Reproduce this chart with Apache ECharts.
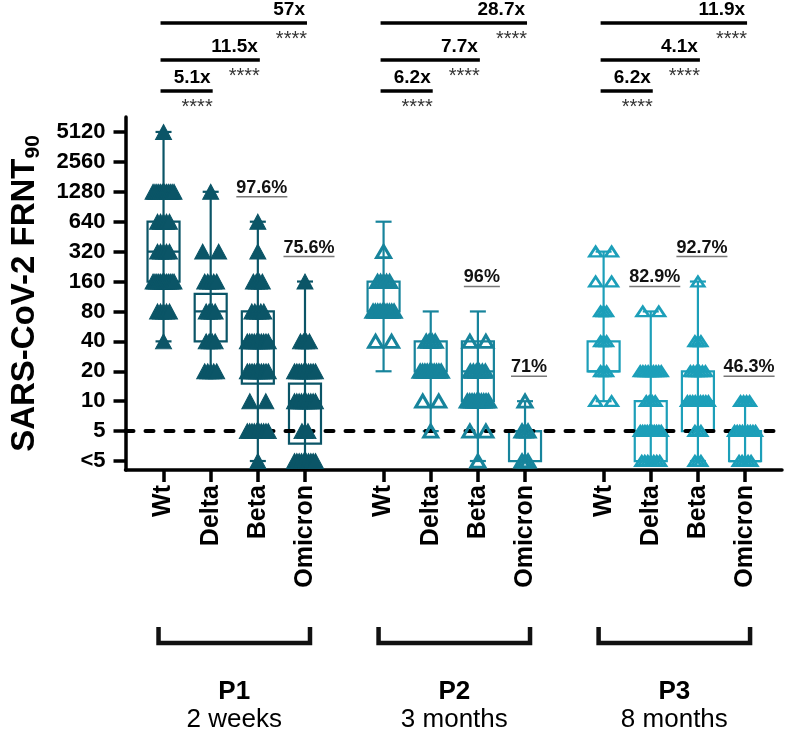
<!DOCTYPE html>
<html><head><meta charset="utf-8">
<script src="https://cdn.jsdelivr.net/npm/echarts@6/dist/echarts.min.js"></script>
<style>html,body{margin:0;padding:0;background:#fff}#c{width:786px;height:734px}</style>
</head><body><div id="c"></div>
<script>
// ---------------- data ----------------
const variants = ['Wt', 'Delta', 'Beta', 'Omicron'];
const periods = ['P1', 'P2', 'P3'];
const periodTimes = ['2 weeks', '3 months', '8 months'];
const yTickTiters = [2.5, 5, 10, 20, 40, 80, 160, 320, 640, 1280, 2560, 5120];
const yTickLabels = ['<5', '5', '10', '20', '40', '80', '160', '320', '640', '1280', '2560', '5120'];
const detectionLimit = 5;

// box stats per variant: [min, Q1, median, Q3, max]
const boxP1 = [[40, 160, 320, 640, 5120], [20, 40, 80, 120, 1280], [2.5, 15, 40, 80, 640], [2.5, 3.75, 10, 15, 160]];
const boxP2 = [[20, 80, 80, 160, 640], [5, 20, 20, 40, 80], [2.5, 10, 20, 40, 80], [2.5, 2.5, 5, 5, 10]];
const boxP3 = [[10, 20, 20, 40, 320], [2.5, 2.5, 5, 10, 80], [2.5, 5, 10, 20, 160], [2.5, 2.5, 2.5, 5, 10]];

// individual titers: [titer, number of subjects]
const ptsP1 = [
  [[5120, 1], [1280, 12], [640, 5], [320, 5], [160, 12], [80, 5], [40, 1]],
  [[1280, 1], [320, 2], [160, 5], [80, 4], [40, 4], [20, 5]],
  [[640, 1], [320, 1], [160, 4], [80, 5], [40, 10], [20, 10], [10, 2], [5, 10], [2.5, 1]],
  [[160, 1], [40, 4], [20, 10], [10, 10], [5, 3], [2.5, 10]]
];
const ptsP2 = [
  [[320, 1], [160, 5], [80, 10], [40, 2]],
  [[40, 4], [20, 10], [10, 2], [5, 1]],
  [[40, 2], [20, 6], [10, 10], [5, 2], [2.5, 1]],
  [[10, 1], [5, 3], [2.5, 3]]
];
const ptsP3 = [
  [[320, 2], [160, 2], [80, 3], [40, 3], [20, 3], [10, 2]],
  [[80, 2], [20, 9], [10, 4], [5, 10], [2.5, 7]],
  [[160, 1], [40, 3], [20, 6], [10, 9], [5, 3], [2.5, 3]],
  [[10, 4], [5, 9], [2.5, 5]]
];

// percent detectable labels per variant
const pctP1 = [null, null, '97.6%', '75.6%'];
const pctP2 = [null, null, '96%', '71%'];
const pctP3 = [null, '82.9%', '92.7%', '46.3%'];

// fold changes vs Wt (Delta, Beta, Omicron) and significance
const foldP1 = ['5.1x', '11.5x', '57x'];
const foldP2 = ['6.2x', '7.7x', '28.7x'];
const foldP3 = ['6.2x', '4.1x', '11.9x'];
const sigP1 = ['****', '****', '****'];
const sigP2 = ['****', '****', '****'];
const sigP3 = ['****', '****', '****'];

// ---------------- layout / style ----------------
const boxes = [boxP1, boxP2, boxP3];
const pts = [ptsP1, ptsP2, ptsP3];
const pcts = [pctP1, pctP2, pctP3];
const folds = [foldP1, foldP2, foldP3];
const sigs = [sigP1, sigP2, sigP3];
const COLORS = ['#0b5567', '#17849c', '#1c9fb9'];
const FONT = '"Liberation Sans", Arial, sans-serif';
const GRID = {left: 125, right: 4, top: 117, bottom: 264};
const X_MIN = -2.42, X_MAX = 39.35;
const unitPx = (786 - GRID.left - GRID.right) / (X_MAX - X_MIN);
const xPos = (g, i) => g * 14 + i * 3;
const ly = v => Math.log2(v / detectionLimit);

function spread(n) {
  if (n === 1) return [0];
  if (n === 2) return [-8, 8];
  const S = Math.min(21, 3 * (n - 1));
  return Array.from({length: n}, (_, k) => -S / 2 + S * k / (n - 1));
}

const tickPositions = [];
const tickNames = {};
periods.forEach((p, g) => variants.forEach((v, i) => { tickPositions.push(xPos(g, i)); tickNames[xPos(g, i)] = v; }));

const yTickVals = yTickTiters.map(ly);

const measureCtx = document.createElement('canvas').getContext('2d');
function textW(t, font) { measureCtx.font = font; return measureCtx.measureText(t).width; }

// box data
const boxData = [];
boxes.forEach((bg, g) => bg.forEach((s, i) => boxData.push([xPos(g, i), ...s.map(ly), g])));

// points
const symbolStyles = [
  {size: [16, 15], style: {color: COLORS[0], borderColor: COLORS[0], borderWidth: 1, opacity: 1}},
  {size: [14, 12], style: {color: 'rgba(0,0,0,0)', borderColor: COLORS[1], borderWidth: 3, opacity: 1}},
  {size: [12.5, 9.5], style: {color: 'rgba(0,0,0,0)', borderColor: COLORS[2], borderWidth: 2.6, opacity: 1}}
];
const scatterSeries = pts.map((pg, g) => {
  const data = [];
  pg.forEach((rows, i) => rows.forEach(([v, n]) => spread(n).forEach(off => data.push([xPos(g, i) + off / unitPx, ly(v)]))));
  return {
    type: 'scatter', name: periods[g], data, symbol: 'triangle',
    symbolSize: symbolStyles[g].size, itemStyle: symbolStyles[g].style,
    z: 5, silent: true
  };
});

// percent labels
const pctData = [];
const pctText = [];
pcts.forEach((pg, g) => pg.forEach((t, i) => {
  if (t) { pctData.push([xPos(g, i), ly(boxes[g][i][4])]); pctText.push(t); }
}));

const option = {
  animation: false,
  textStyle: {fontFamily: FONT},
  grid: GRID,
  xAxis: {
    type: 'value', min: X_MIN, max: X_MAX,
    axisLine: {onZero: false, lineStyle: {color: '#000', width: 3.5}},
    axisTick: {customValues: tickPositions, length: 12, lineStyle: {color: '#000', width: 3.5}},
    axisLabel: {customValues: tickPositions, rotate: 90, margin: 15, formatter: v => tickNames[v] || '',
      color: '#000', fontSize: 25, fontWeight: 'bold', fontFamily: FONT},
    splitLine: {show: false}
  },
  yAxis: {
    type: 'value', min: -1.3, max: 10.5,
    name: '{a|SARS-CoV-2 FRNT}{b|90}', nameLocation: 'middle', nameGap: 82, nameRotate: 90,
    nameTextStyle: {rich: {
      a: {fontSize: 33, fontWeight: 'bold', fontFamily: FONT, color: '#000', lineHeight: 38},
      b: {fontSize: 21, fontWeight: 'bold', fontFamily: FONT, color: '#000', lineHeight: 16, verticalAlign: 'bottom'}
    }},
    axisLine: {onZero: false, lineStyle: {color: '#000', width: 3.5}},
    axisTick: {customValues: yTickVals, length: 12, lineStyle: {color: '#000', width: 3.5}},
    axisLabel: {customValues: yTickVals, margin: 20, color: '#000', fontSize: 22, fontWeight: 'bold', fontFamily: FONT,
      formatter: v => { const k = yTickVals.findIndex(t => Math.abs(t - v) < 1e-6); return k >= 0 ? yTickLabels[k] : ''; }},
    splitLine: {show: false}
  },
  series: [
    {
      type: 'custom', name: 'boxes', data: boxData, clip: false, silent: true, z: 2,
      renderItem(params, api) {
        const x = api.value(0);
        const p = [1, 2, 3, 4, 5].map(d => api.coord([x, api.value(d)]));
        const col = COLORS[api.value(6)];
        const cx = p[0][0], hw = 16, cw = 8;
        const st = {stroke: col, lineWidth: 2.2, fill: 'none'};
        return {type: 'group', children: [
          {type: 'line', shape: {x1: cx, y1: p[4][1], x2: cx, y2: p[0][1]}, style: st},
          {type: 'line', shape: {x1: cx - cw, y1: p[4][1], x2: cx + cw, y2: p[4][1]}, style: st},
          {type: 'line', shape: {x1: cx - cw, y1: p[0][1], x2: cx + cw, y2: p[0][1]}, style: st},
          {type: 'rect', shape: {x: cx - hw, y: p[3][1], width: 2 * hw, height: p[1][1] - p[3][1]}, style: st},
          {type: 'line', shape: {x1: cx - hw, y1: p[2][1], x2: cx + hw, y2: p[2][1]}, style: st}
        ]};
      },
      markLine: {
        silent: true, symbol: 'none', label: {show: false},
        lineStyle: {color: '#000', width: 4, type: [8, 12], cap: 'round', opacity: 1},
        data: [{yAxis: ly(detectionLimit)}]
      }
    },
    ...scatterSeries,
    {
      type: 'custom', name: 'pct', data: pctData, clip: false, silent: true, z: 6,
      renderItem(params, api) {
        const p = api.coord([api.value(0), api.value(1)]);
        const t = pctText[params.dataIndex];
        const font = 'bold 18px ' + FONT;
        const w = textW(t, font);
        const cx = p[0] + 4, cy = p[1] - 34;
        return {type: 'group', children: [
          {type: 'text', style: {text: t, x: cx, y: cy, font, fill: '#111', align: 'center', verticalAlign: 'middle'}},
          {type: 'line', shape: {x1: cx - w / 2, y1: cy + 9, x2: cx + w / 2, y2: cy + 9}, style: {stroke: '#777', lineWidth: 1.6}}
        ]};
      }
    },
    {
      type: 'custom', name: 'annot', data: periods.map((p, g) => [xPos(g, 0), 0, g]), clip: false, silent: true, z: 6,
      renderItem(params, api) {
        const g = api.value(2);
        const xs = variants.map((v, i) => api.coord([xPos(g, i), 0])[0]);
        const levels = [91, 60, 23];
        const children = [];
        levels.forEach((ly0, k) => {
          const x1 = xs[0] - 3, x2 = xs[k + 1] + 2;
          children.push({type: 'line', shape: {x1, y1: ly0, x2, y2: ly0}, style: {stroke: '#000', lineWidth: 3.5}});
          children.push({type: 'text', style: {text: folds[g][k], x: x2 - 2, y: ly0 - 13, font: 'bold 19px ' + FONT, fill: '#000', align: 'right', verticalAlign: 'middle'}});
          children.push({type: 'text', style: {text: sigs[g][k], x: x2, y: ly0 + 6, font: '20px ' + FONT, fill: '#333', align: 'right', verticalAlign: 'top'}});
        });
        const bx1 = xs[0] - 5, bx2 = xs[3] + 5, by1 = 627, by2 = 643;
        children.push({type: 'polyline', shape: {points: [[bx1, by1], [bx1, by2], [bx2, by2], [bx2, by1]]}, style: {stroke: '#111', lineWidth: 4.5, fill: 'none'}});
        const mid = (xs[0] + xs[3]) / 2;
        children.push({type: 'text', style: {text: periods[g], x: mid, y: 692, font: 'bold 26px ' + FONT, fill: '#000', align: 'center', verticalAlign: 'middle'}});
        children.push({type: 'text', style: {text: periodTimes[g], x: mid, y: 720, font: '26px ' + FONT, fill: '#000', align: 'center', verticalAlign: 'middle'}});
        return {type: 'group', children};
      }
    }
  ]
};
const chart = echarts.init(document.getElementById('c'), null, {renderer: 'canvas'});
chart.setOption(option);
</script></body></html>
